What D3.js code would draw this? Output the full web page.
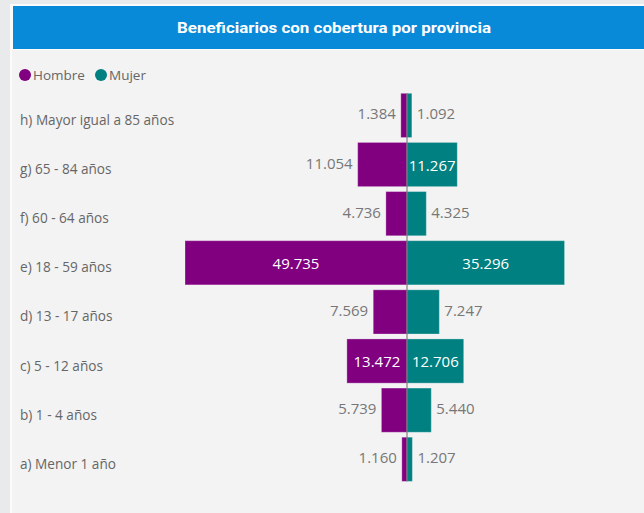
<!DOCTYPE html>
<html>
<head>
<meta charset="utf-8">
<script src="https://cdn.jsdelivr.net/npm/d3@7"></script>
<style>
  html, body { margin: 0; padding: 0; background: #e9eaec; }
  svg { display: block; }
</style>
</head>
<body>
<svg id="chart" width="644" height="513"></svg>
<script>
const title = "Beneficiarios con cobertura por provincia";
const categories = [
  "h) Mayor igual a 85 años",
  "g) 65 - 84 años",
  "f) 60 - 64 años",
  "e) 18 - 59 años",
  "d) 13 - 17 años",
  "c) 5 - 12 años",
  "b) 1 - 4 años",
  "a) Menor 1 año"
];
const seriesNames = ["Hombre", "Mujer"];
const hombre = [1384, 11054, 4736, 49735, 7569, 13472, 5739, 1160];
const mujer  = [1092, 11267, 4325, 35296, 7247, 12706, 5440, 1207];
const colors = ["#800080", "#008080"];

const svg = d3.select("#chart");
const W = 644, H = 513;

// background panels
svg.append("rect").attr("x", 0).attr("y", 0).attr("width", W).attr("height", H).attr("fill", "#e9eaec");
svg.append("rect").attr("x", 10).attr("y", 4).attr("width", W - 10).attr("height", H - 4).attr("fill", "#fbfbfb");
svg.append("rect").attr("x", 12).attr("y", 50).attr("width", W - 12).attr("height", H - 50).attr("fill", "#f3f3f3");
svg.append("rect").attr("x", 13).attr("y", 6).attr("width", W - 13).attr("height", 43).attr("fill", "#088ad9");

svg.append("text")
  .attr("x", 334).attr("y", 27.5)
  .attr("text-anchor", "middle").attr("dominant-baseline", "central")
  .attr("fill", "#ffffff")
  .attr("font-family", "Roboto, 'Open Sans', sans-serif")
  .attr("font-weight", 700)
  .attr("font-size", 15)
  .attr("textLength", 314).attr("lengthAdjust", "spacingAndGlyphs")
  .text(title);

// legend
const legend = svg.append("g").attr("font-family", "'Open Sans', sans-serif").attr("font-size", 13.5).attr("fill", "#666");
const legendX = [25, 101];
seriesNames.forEach((n, i) => {
  legend.append("circle").attr("cx", legendX[i]).attr("cy", 75).attr("r", 6).attr("fill", colors[i]);
  legend.append("text").attr("x", legendX[i] + 8).attr("y", 75).attr("dominant-baseline", "central").text(n);
});

// scales
const cx = 407;
const maxVal = d3.max(hombre.concat(mujer));
const x = d3.scaleLinear().domain([0, maxVal]).range([0, 222]);
const y = d3.scaleBand().domain(categories).range([90.85, 483.85]).paddingInner(0.1).paddingOuter(0.05);
const insideMinWidth = 50;

// category labels
svg.append("g").selectAll("text").data(categories).join("text")
  .attr("x", 20)
  .attr("y", d => y(d) + y.bandwidth() / 2 + 4)
  .attr("dominant-baseline", "central")
  .attr("font-family", "'Open Sans', sans-serif")
  .attr("font-size", 13.6)
  .attr("fill", "#666")
  .text(d => d);

const rows = categories.map((c, i) => ({ c, h: hombre[i], m: mujer[i] }));

const bars = svg.append("g");
bars.selectAll("rect.h").data(rows).join("rect")
  .attr("class", "h")
  .attr("x", d => cx - x(d.h))
  .attr("y", d => y(d.c))
  .attr("width", d => x(d.h))
  .attr("height", y.bandwidth())
  .attr("fill", colors[0])
  .attr("stroke", "rgba(255,255,255,0.3)").attr("stroke-width", 1);
bars.selectAll("rect.m").data(rows).join("rect")
  .attr("class", "m")
  .attr("x", cx)
  .attr("y", d => y(d.c))
  .attr("width", d => x(d.m))
  .attr("height", y.bandwidth())
  .attr("fill", colors[1])
  .attr("stroke", "rgba(255,255,255,0.3)").attr("stroke-width", 1);

// center line
svg.append("line")
  .attr("x1", cx).attr("x2", cx)
  .attr("y1", y(categories[0])).attr("y2", y(categories[categories.length - 1]) + y.bandwidth())
  .attr("stroke", "#6a6a6a").attr("stroke-width", 1);

const fmt = v => d3.format(",")(v).replace(/,/g, ".");
const labels = svg.append("g").attr("font-family", "'Open Sans', sans-serif").attr("font-size", 15);

rows.forEach(d => {
  const yc = y(d.c) + y.bandwidth() / 2;
  const wh = x(d.h), wm = x(d.m);
  const hin = wh > insideMinWidth, min = wm > insideMinWidth;
  labels.append("text")
    .attr("x", hin ? cx - wh / 2 : cx - wh - 5)
    .attr("y", hin ? yc : yc - 2)
    .attr("text-anchor", hin ? "middle" : "end")
    .attr("dominant-baseline", "central")
    .attr("fill", hin ? "#ffffff" : "#777")
    .text(fmt(d.h));
  labels.append("text")
    .attr("x", min ? cx + wm / 2 : cx + wm + 5)
    .attr("y", min ? yc : yc - 2)
    .attr("text-anchor", min ? "middle" : "start")
    .attr("dominant-baseline", "central")
    .attr("fill", min ? "#ffffff" : "#777")
    .text(fmt(d.m));
});
</script>
</body>
</html>
